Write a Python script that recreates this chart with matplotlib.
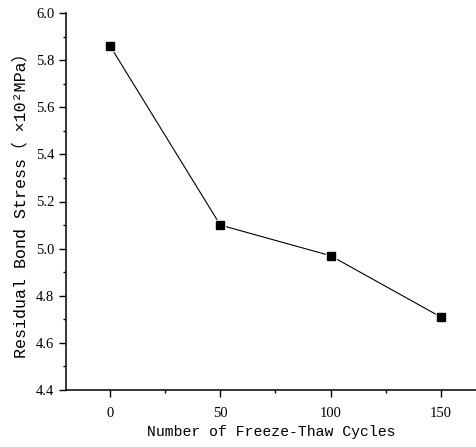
import matplotlib.pyplot as plt
from matplotlib.ticker import MultipleLocator

# freeze-thaw cycles vs residual bond stress (x10^2 MPa)
cycles = [0, 50, 100, 150]
stress = [5.86, 5.10, 4.97, 4.71]

fig = plt.figure(figsize=(4.76, 4.47), dpi=100)
ax = fig.add_axes([66 / 476, 1 - 390 / 447, 1 - 66 / 476, 377 / 447])

ax.plot(cycles, stress, color="black", linewidth=0.8, zorder=2)
# white squares behind the black ones leave the small gap at each point
ax.plot(cycles, stress, linestyle="none", marker="s", markersize=7.5,
        color="white", zorder=3)
ax.plot(cycles, stress, linestyle="none", marker="s", markersize=5.2,
        color="black", zorder=4)

ax.set_xlim(-20, 166)
ax.set_ylim(4.4, 6.0)
ax.xaxis.set_major_locator(MultipleLocator(50))
ax.xaxis.set_minor_locator(MultipleLocator(25))
ax.yaxis.set_major_locator(MultipleLocator(0.2))
ax.yaxis.set_minor_locator(MultipleLocator(0.1))
ax.yaxis.set_major_formatter(lambda v, p: f"{v:.1f}")

for s in ["top", "right"]:
    ax.spines[s].set_visible(False)
for s in ["left", "bottom"]:
    ax.spines[s].set_linewidth(1.1)

ax.tick_params(which="major", direction="out", length=5, width=1.0)
ax.tick_params(which="minor", direction="out", length=2.5, width=1.0)
ax.tick_params(axis="x", which="major", pad=7)
for lab in ax.get_xticklabels() + ax.get_yticklabels():
    lab.set_fontfamily("Liberation Serif")
    lab.set_fontsize(10.5)

lab_font = ["Liberation Mono", "Noto Sans CJK SC", "DejaVu Sans"]
ax.set_xlabel("Number of Freeze-Thaw Cycles", family=lab_font, fontsize=10.6,
              labelpad=4)
ax.set_ylabel("Residual Bond Stress（ ×10²MPa）", family=lab_font, fontsize=12,
              labelpad=5)

fig.savefig("out.png", dpi=100)
